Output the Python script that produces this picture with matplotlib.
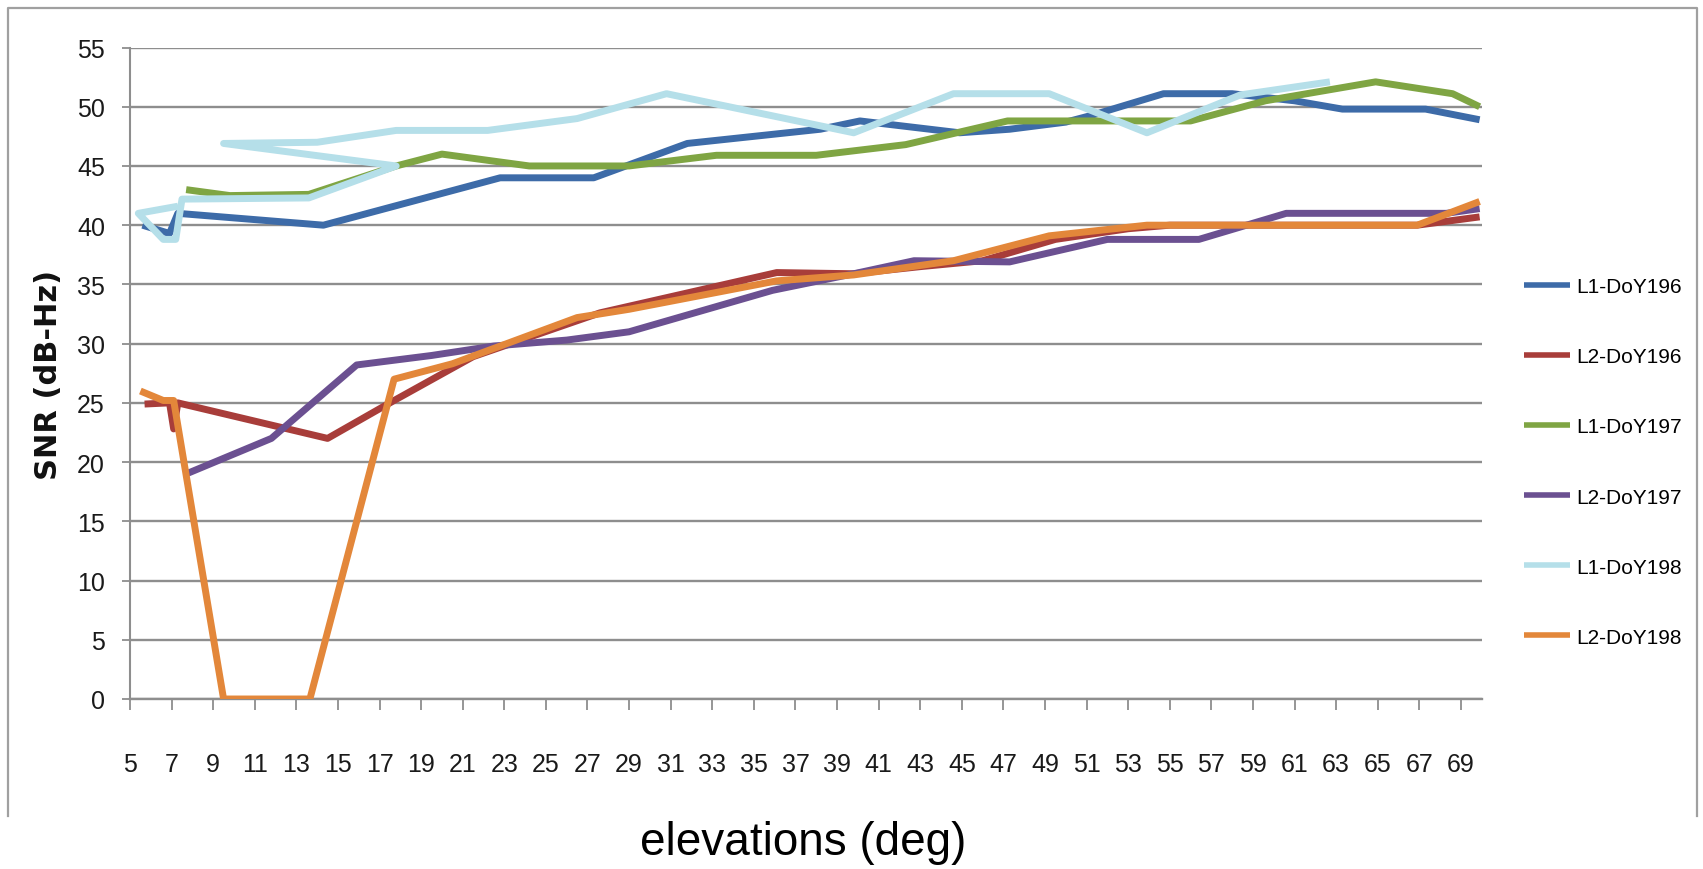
import matplotlib
matplotlib.use("Agg")
import matplotlib.pyplot as plt
from matplotlib.lines import Line2D

# ---------------- data (elevation deg, SNR dB-Hz) ----------------
series_names = ["L1-DoY196", "L2-DoY196", "L1-DoY197", "L2-DoY197", "L1-DoY198", "L2-DoY198"]

l1_196_x = [5.6, 6.9, 7.3, 14.3, 22.8, 27.3, 31.8, 38.2, 40.1, 44.9, 47.3, 50.0, 51.3, 54.7, 58.0, 61.0, 63.3, 67.3, 69.9]
l1_196_y = [40.0, 39.3, 41.0, 40.0, 44.0, 44.0, 46.9, 48.1, 48.8, 47.8, 48.1, 48.7, 49.3, 51.1, 51.1, 50.5, 49.8, 49.8, 48.9]

l2_196_x = [5.7, 6.9, 7.1, 7.3, 14.5, 17.7, 21.5, 27.6, 36.1, 39.8, 43.0, 46.0, 49.5, 53.0, 55.0, 66.9, 69.9]
l2_196_y = [24.9, 25.0, 22.8, 25.0, 22.0, 25.2, 28.9, 32.6, 36.0, 35.9, 36.5, 37.0, 38.8, 39.7, 40.0, 40.0, 40.7]

l1_197_x = [7.7, 9.8, 13.6, 17.8, 20.0, 24.2, 29.0, 33.2, 38.0, 42.3, 47.2, 56.0, 59.6, 64.9, 68.6, 69.9]
l1_197_y = [43.0, 42.5, 42.6, 45.0, 46.0, 45.0, 45.0, 45.9, 45.9, 46.8, 48.8, 48.8, 50.5, 52.1, 51.1, 50.0]

l2_197_x = [7.7, 11.8, 15.9, 19.5, 22.5, 26.0, 29.0, 35.9, 39.8, 42.7, 47.3, 52.0, 56.4, 60.6, 68.3, 69.9]
l2_197_y = [19.0, 22.0, 28.2, 29.0, 29.8, 30.3, 31.0, 34.5, 35.9, 37.0, 36.9, 38.8, 38.8, 41.0, 41.0, 41.4]

l1_198_x = [7.3, 5.4, 6.6, 7.2, 7.5, 13.6, 17.8, 9.5, 14.0, 17.8, 22.2, 26.5, 30.8, 39.8, 44.6, 49.2, 53.9, 58.4, 62.7]
l1_198_y = [41.6, 41.0, 38.8, 38.8, 42.2, 42.3, 45.0, 46.9, 47.0, 48.0, 48.0, 49.0, 51.1, 47.8, 51.1, 51.1, 47.8, 51.0, 52.1]

l2_198_x = [5.5, 6.6, 7.1, 9.5, 13.65, 17.7, 20.5, 26.5, 29.0, 36.1, 39.8, 44.6, 49.2, 53.9, 66.9, 69.9]
l2_198_y = [26.0, 25.2, 25.2, 0.0, 0.0, 27.0, 28.3, 32.2, 32.9, 35.3, 35.8, 37.0, 39.1, 40.0, 40.0, 42.0]

x_ticks = list(range(5, 70, 2))
y_ticks = list(range(0, 56, 5))

# ---------------- styling ----------------
colors = ["#3d6ba8", "#a83d3a", "#7fa543", "#6b5091", "#b5dfe9", "#e3873a"]
TXT = ["Liberation Sans", "DejaVu Sans"]

W, H = 1703, 870
fig = plt.figure(figsize=(W / 100, H / 100), dpi=100)
fig.patch.set_facecolor("white")

left, right, top, bottom = 130, 1481.7, 48.5, 700
ax = fig.add_axes([left / W, 1 - bottom / H, (right - left) / W, (bottom - top) / H])

xs = [l1_196_x, l2_196_x, l1_197_x, l2_197_x, l1_198_x, l2_198_x]
ys = [l1_196_y, l2_196_y, l1_197_y, l2_197_y, l1_198_y, l2_198_y]

handles = []
for x, y, c, name in zip(xs, ys, colors, series_names):
    h, = ax.plot(x, y, color=c, lw=5.0, solid_joinstyle="round",
                 solid_capstyle="butt", label=name, zorder=3)
    handles.append(h)

ax.set_xlim(5, 70)
ax.set_ylim(0, 55)
ax.set_xticks(x_ticks)
ax.set_yticks(y_ticks)
ax.set_xticklabels([str(v) for v in x_ticks], family=TXT, fontsize=18, color="#1a1a1a")
ax.set_yticklabels([str(v) for v in y_ticks], family=TXT, fontsize=18, color="#1a1a1a")

grid_c = "#8e8e8e"
ax.grid(axis="y", color=grid_c, lw=1.7, zorder=1)
ax.set_axisbelow(True)
for s in ["top", "right"]:
    ax.spines[s].set_visible(False)
ax.spines["left"].set_color(grid_c)
ax.spines["left"].set_linewidth(1.5)
ax.spines["bottom"].set_color(grid_c)
ax.spines["bottom"].set_linewidth(1.7)
ax.tick_params(axis="x", length=8, width=1.3, color=grid_c, pad=30)
ax.tick_params(axis="y", length=6, width=1.3, color=grid_c, pad=12)

# axis titles
fig.text(49 / W, 1 - 375 / H, "SNR (dB-Hz)", rotation=90, ha="center", va="center",
         fontsize=22, fontweight="bold", family="DejaVu Sans", color="#111111")
fig.text(803 / W, 1 - 843 / H, "elevations (deg)", ha="center", va="center",
         fontsize=33, family="Liberation Sans", color="black")

# legend
leg = fig.legend(handles, series_names, loc="center left",
                 bbox_to_anchor=(1524 / W, 1 - 463 / H), frameon=False,
                 prop={"family": TXT, "size": 15}, handlelength=2.2,
                 handletextpad=0.3, labelspacing=2.45, borderpad=0, borderaxespad=0)
for ln in leg.get_lines():
    ln.set_linewidth(4.0)

# chart frame (open at bottom)
fc = "#a0a0a0"
fig.add_artist(Line2D([8 / W, 8 / W, 1697 / W, 1697 / W],
                      [1 - 817 / H, 1 - 9 / H, 1 - 9 / H, 1 - 817 / H],
                      transform=fig.transFigure, color=fc, lw=1.6))

fig.savefig("out.png", dpi=100, facecolor="white")
